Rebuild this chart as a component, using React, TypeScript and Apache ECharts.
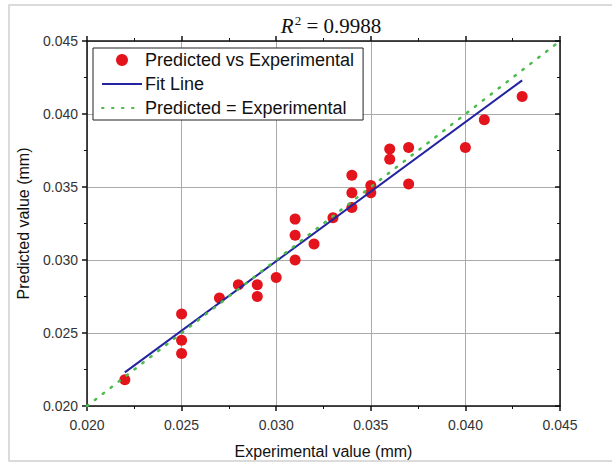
import React, { useEffect, useRef } from "react";
import * as echarts from "echarts";

const expX = [0.022, 0.025, 0.025, 0.025, 0.027, 0.028, 0.029, 0.029, 0.030, 0.031, 0.031, 0.031, 0.032, 0.033, 0.034, 0.034, 0.034, 0.035, 0.035, 0.036, 0.036, 0.037, 0.037, 0.040, 0.041, 0.043];
const predY = [0.0218, 0.0263, 0.0245, 0.0236, 0.0274, 0.0283, 0.0283, 0.0275, 0.0288, 0.0328, 0.0317, 0.0300, 0.0311, 0.0329, 0.0358, 0.0346, 0.0336, 0.0351, 0.0346, 0.0376, 0.0369, 0.0377, 0.0352, 0.0377, 0.0396, 0.0412];
const fitX = [0.022, 0.043];
const fitY = [0.0223, 0.0423];
const diagX = [0.020, 0.045];
const diagY = [0.020, 0.045];
const axisMin = 0.020;
const axisMax = 0.045;
const axisStep = 0.005;

export default function App() {
  const ref = useRef<HTMLDivElement>(null);
  useEffect(() => {
    if (!ref.current) return;
    const chart = echarts.init(ref.current, null, { renderer: "svg" });
    const font = "'Liberation Sans', Arial, sans-serif";
    const serif = "'Liberation Serif', 'DejaVu Serif', serif";
    const baseAxis = {
      min: axisMin,
      max: axisMax,
      interval: axisStep,
      axisLine: { show: true, onZero: false, lineStyle: { color: "#111", width: 1.5 } },
      axisTick: { show: true, inside: false, length: 5, lineStyle: { color: "#111", width: 1.5 } },
      minorTick: { show: true, splitNumber: 2, length: 3, lineStyle: { color: "#111", width: 1 } },
      splitLine: { show: false },
    };
    chart.setOption({
      animation: false,
      backgroundColor: "#fff",
      title: {
        text: "{i|R}{s|2}{n| = 0.9988}",
        left: 326,
        top: 9,
        textAlign: "center",
        textStyle: {
          fontWeight: "normal",
          rich: {
            i: { fontFamily: serif, fontStyle: "italic", fontWeight: "normal", fontSize: 21, lineHeight: 24, color: "#111" },
            s: { fontFamily: serif, fontWeight: "normal", fontSize: 13, lineHeight: 24, verticalAlign: "top", padding: [0, 0, 6, 1], color: "#111" },
            n: { fontFamily: serif, fontWeight: "normal", fontSize: 21, lineHeight: 24, color: "#111" },
          },
        },
      },
      graphic: [
        {
          type: "rect",
          shape: { x: 9, y: 5, width: 620, height: 456 },
          style: { fill: "none", stroke: "#d0d0d0", lineWidth: 1.5 },
          silent: true,
        },
      ],
      grid: { left: 87, top: 41, right: 52, bottom: 59, containLabel: false },
      legend: {
        orient: "vertical",
        left: 93,
        top: 48,
        padding: [3, 9, 3, 8],
        itemGap: 6,
        itemWidth: 40,
        itemHeight: 12,
        backgroundColor: "#fff",
        borderColor: "#222",
        borderWidth: 1,
        borderRadius: 0,
        textStyle: { fontFamily: font, fontSize: 18, color: "#111", padding: [0, 0, 0, -2] },
        data: [
          { name: "Predicted vs Experimental", icon: "circle" },
          { name: "Fit Line", itemStyle: { opacity: 0 } },
          { name: "Predicted = Experimental", itemStyle: { opacity: 0 } },
        ],
      },
      xAxis: [
        {
          ...baseAxis,
          type: "value",
          position: "bottom",
          name: "Experimental value (mm)",
          nameLocation: "middle",
          nameGap: 37,
          nameTextStyle: { fontFamily: font, fontSize: 16, color: "#111" },
          axisLabel: {
            fontFamily: font,
            fontSize: 14,
            color: "#333",
            margin: 12,
            formatter: (v: number) => v.toFixed(3),
          },
          splitLine: { show: true, lineStyle: { color: "#aaa", width: 1 } },
        },
        {
          ...baseAxis,
          type: "value",
          position: "top",
          axisLabel: { show: false },
        },
      ],
      yAxis: [
        {
          ...baseAxis,
          type: "value",
          position: "left",
          name: "Predicted value (mm)",
          nameLocation: "middle",
          nameGap: 56,
          nameTextStyle: { fontFamily: font, fontSize: 16, color: "#111" },
          axisLabel: {
            fontFamily: font,
            fontSize: 14,
            color: "#333",
            margin: 9,
            formatter: (v: number) => v.toFixed(3),
          },
          splitLine: { show: true, lineStyle: { color: "#aaa", width: 1 } },
        },
        {
          ...baseAxis,
          type: "value",
          position: "right",
          axisTick: { ...baseAxis.axisTick, inside: true },
          axisLabel: { show: false },
        },
      ],
      series: [
        {
          name: "Predicted vs Experimental",
          type: "scatter",
          symbol: "circle",
          symbolSize: 11,
          itemStyle: { color: "#e3141b", opacity: 1 },
          data: expX.map((x, i) => [x, predY[i]]),
          z: 2,
        },
        {
          name: "Fit Line",
          type: "line",
          symbol: "none",
          lineStyle: { color: "#2424a0", width: 2 },
          itemStyle: { color: "#2424a0" },
          data: fitX.map((x, i) => [x, fitY[i]]),
          z: 3,
        },
        {
          name: "Predicted = Experimental",
          type: "line",
          symbol: "none",
          lineStyle: { color: "#4cbb4c", width: 2.5, type: [1.5, 8.5], cap: "round" },
          itemStyle: { color: "#4cbb4c" },
          data: diagX.map((x, i) => [x, diagY[i]]),
          z: 4,
        },
      ],
    });
    return () => chart.dispose();
  }, []);
  return <div ref={ref} style={{ width: 612, height: 465, position: "absolute", left: 0, top: 0 }} />;
}
